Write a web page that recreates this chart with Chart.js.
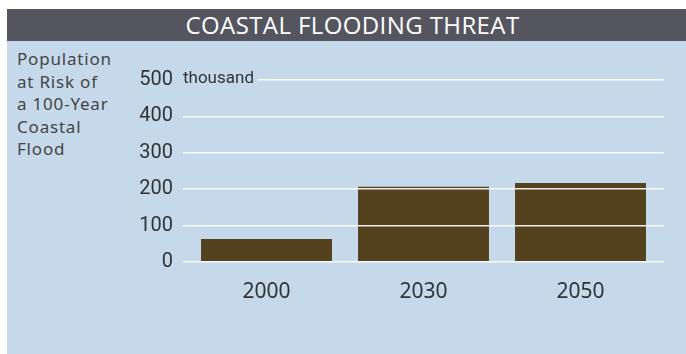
<!DOCTYPE html>
<html>
<head>
<meta charset="utf-8">
<script src="https://cdn.jsdelivr.net/npm/chart.js@4"></script>
<style>
  html, body { margin: 0; padding: 0; background: #ffffff; }
  body { width: 686px; height: 354px; position: relative; overflow: hidden; }
  #panel { position: absolute; left: 7px; top: 9px; width: 679px; height: 345px; background: #c6d9ea; }
  #title { position: absolute; left: 7px; top: 9px; width: 667px; height: 32px; padding-left: 12px;
    background: #55555f; color: #ffffff; font: 500 24px "Open Sans", sans-serif; letter-spacing: 0.4px;
    line-height: 32px; text-align: center; }
  #sideLabel { position: absolute; left: 17px; top: 48px; color: #444444; letter-spacing: 0.8px;
    font: 17px "Noto Sans", sans-serif; line-height: 22.5px; }
  #wrap { position: absolute; left: 0; top: 0; width: 686px; height: 354px; }
</style>
</head>
<body>
<div id="panel"></div>
<div id="title">COASTAL FLOODING THREAT</div>
<div id="sideLabel">Population<br>at Risk of<br>a 100-Year<br>Coastal<br>Flood</div>
<div id="wrap"><canvas id="floodChart"></canvas></div>
<script>
// chart data
const years = ['2000', '2030', '2050'];
const populationAtRisk = [63, 207, 217]; // thousand
const yTicks = [0, 100, 200, 300, 400, 500];
const unitLabel = 'thousand';

const panelColor = '#c6d9ea';
const narrowFont = 'Roboto, sans-serif';

// writes "thousand" next to the top tick, covering the start of that grid line
const unitPlugin = {
    id: 'unitLabel',
    afterDraw(chart) {
        const ctx = chart.ctx;
        const y = chart.scales.y.getPixelForValue(yTicks[yTicks.length - 1]);
        ctx.save();
        ctx.fillStyle = panelColor;
        ctx.fillRect(181, y - 4, 77, 8);
        ctx.fillStyle = '#333333';
        ctx.font = '17px ' + narrowFont;
        ctx.textBaseline = 'middle';
        ctx.fillText(unitLabel, 183, y - 1);
        ctx.restore();
    }
};

const ctxFlood = document.getElementById('floodChart').getContext('2d');
const floodChart = new Chart(ctxFlood, {
    type: 'bar',
    data: {
        labels: years,
        datasets: [{
            data: populationAtRisk,
            backgroundColor: '#54421f',
            borderWidth: 0,
            barPercentage: 0.834,
            categoryPercentage: 1
        }]
    },
    options: {
        responsive: true,
        maintainAspectRatio: false,
        animation: false,
        layout: { padding: { top: 80, left: 0, right: 0, bottom: 0 } },
        plugins: {
            legend: { display: false },
            tooltip: { enabled: false }
        },
        scales: {
            x: {
                grid: { display: false },
                border: { display: false },
                ticks: {
                    color: '#333333',
                    font: { family: '"Noto Sans", sans-serif', size: 21 },
                    padding: 9
                },
                afterFit(scale) { scale.height = 92; }
            },
            y: {
                min: 0,
                max: 500,
                afterBuildTicks(scale) { scale.ticks = yTicks.map(v => ({ value: v })); },
                grid: {
                    color: 'rgba(255,255,255,0.9)',
                    lineWidth: 1.5,
                    tickLength: 5,
                    z: 1
                },
                border: { display: false },
                ticks: {
                    color: '#333333',
                    font: { family: narrowFont, size: 20 },
                    padding: 10
                },
                afterFit(scale) { scale.width = 188; }
            },
            y2: {
                position: 'right',
                min: 0,
                max: 500,
                afterBuildTicks(scale) { scale.ticks = yTicks.map(v => ({ value: v })); },
                grid: {
                    color: 'rgba(255,255,255,0.9)',
                    lineWidth: 1.5,
                    tickLength: 5,
                    drawOnChartArea: false
                },
                border: { display: false },
                ticks: { display: false },
                afterFit(scale) { scale.width = 27; }
            }
        }
    },
    plugins: [unitPlugin]
});
</script>
</body>
</html>
